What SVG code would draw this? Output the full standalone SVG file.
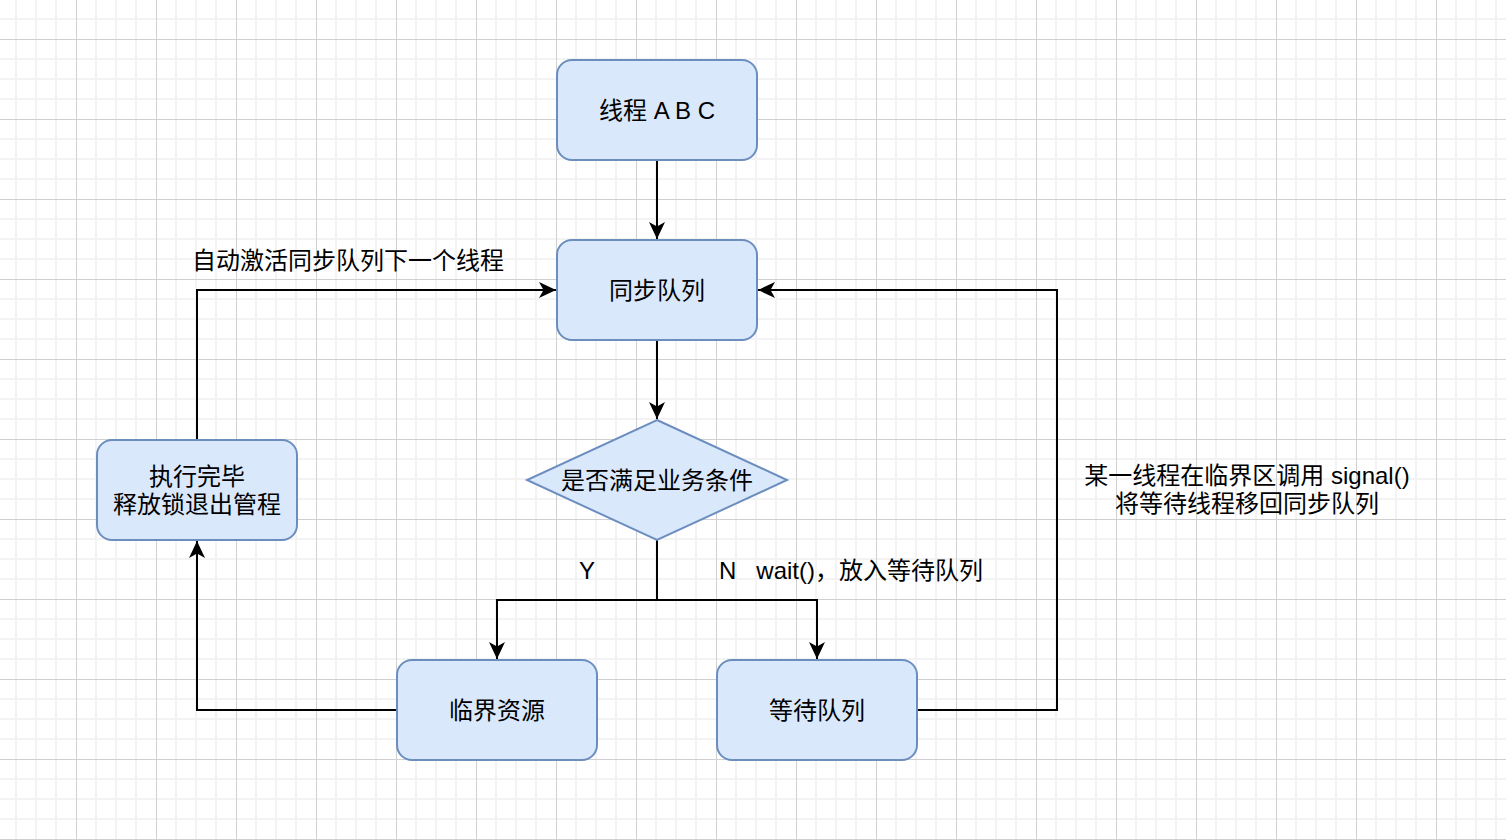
<svg xmlns="http://www.w3.org/2000/svg" width="1506" height="840" viewBox="0 0 1506 840">
<style>
.node{fill:#dae8fc;stroke:#6c8ebf;stroke-width:2}
.lbl{font-family:"Liberation Sans","Noto Sans CJK SC",sans-serif;font-size:24px;fill:#000;dominant-baseline:central}
.edge{fill:none;stroke:#000;stroke-width:2;marker-end:url(#arr)}
</style>
<defs>
<pattern id="grid" x="76" y="39" width="80" height="80" patternUnits="userSpaceOnUse">
<rect x="19" y="0" width="2" height="80" fill="#f3f3f3"/>
<rect x="39" y="0" width="2" height="80" fill="#f3f3f3"/>
<rect x="59" y="0" width="2" height="80" fill="#f3f3f3"/>
<rect x="0" y="19" width="80" height="2" fill="#f3f3f3"/>
<rect x="0" y="39" width="80" height="2" fill="#f3f3f3"/>
<rect x="0" y="59" width="80" height="2" fill="#f3f3f3"/>
<rect x="0" y="0" width="1" height="80" fill="#d0d0d0"/>
<rect x="0" y="0" width="80" height="1" fill="#d0d0d0"/>
</pattern>
<marker id="arr" viewBox="0 0 17 16" refX="17" refY="8" markerWidth="17" markerHeight="16" markerUnits="userSpaceOnUse" orient="auto">
<path d="M17,8 L0,0 L4.5,8 L0,16 Z" fill="#000"/>
</marker>
</defs>
<rect width="1506" height="840" fill="#fff"/>
<rect width="1506" height="840" fill="url(#grid)"/>

<g id="connectors">
<path class="edge" d="M657,160 L657,239"/>
<path class="edge" d="M657,340 L657,419"/>
<path class="edge" d="M657,540 L657,600 L497,600 L497,659"/>
<path class="edge" d="M657,600 L817,600 L817,659"/>
<path class="edge" d="M397,710 L197,710 L197,541"/>
<path class="edge" d="M197,440 L197,290 L556,290"/>
<path class="edge" d="M917,710 L1057,710 L1057,290 L758,290"/>
<text class="lbl" x="192" y="260">自动激活同步队列下一个线程</text>
<text class="lbl" x="587" y="570" text-anchor="middle">Y</text>
<text class="lbl" x="719" y="570" xml:space="preserve">N   wait()，放入等待队列</text>
<text class="lbl" x="1247" y="475" text-anchor="middle">某一线程在临界区调用 signal()</text>
<text class="lbl" x="1247" y="503" text-anchor="middle">将等待线程移回同步队列</text>
</g>

<g id="node-threads">
<rect class="node" x="557" y="60" width="200" height="100" rx="15"/>
<text class="lbl" x="657" y="110" text-anchor="middle">线程 A B C</text>
</g>
<g id="node-sync-queue">
<rect class="node" x="557" y="240" width="200" height="100" rx="15"/>
<text class="lbl" x="657" y="290" text-anchor="middle">同步队列</text>
</g>
<g id="node-condition">
<path class="node" d="M657,420 L787,480 L657,540 L527,480 Z"/>
<text class="lbl" x="657" y="480" text-anchor="middle">是否满足业务条件</text>
</g>
<g id="node-done">
<rect class="node" x="97" y="440" width="200" height="100" rx="15"/>
<text class="lbl" x="197" y="476" text-anchor="middle">执行完毕</text>
<text class="lbl" x="197" y="504" text-anchor="middle">释放锁退出管程</text>
</g>
<g id="node-critical">
<rect class="node" x="397" y="660" width="200" height="100" rx="15"/>
<text class="lbl" x="497" y="710" text-anchor="middle">临界资源</text>
</g>
<g id="node-wait-queue">
<rect class="node" x="717" y="660" width="200" height="100" rx="15"/>
<text class="lbl" x="817" y="710" text-anchor="middle">等待队列</text>
</g>
</svg>
